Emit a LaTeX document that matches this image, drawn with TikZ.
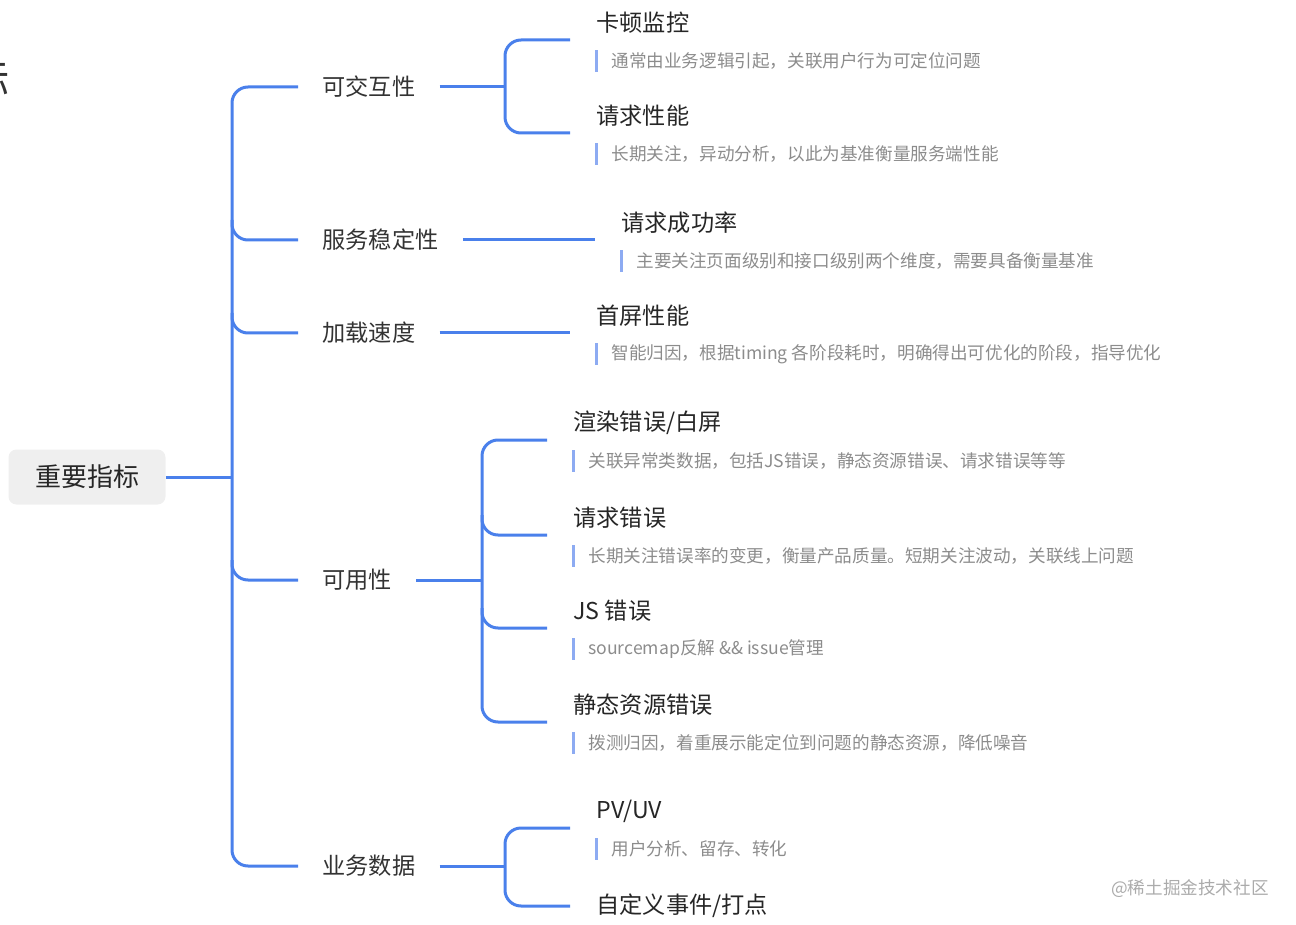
\documentclass[tikz,border=0pt]{standalone}
\usepackage{fontspec}
\setmainfont{Noto Sans CJK SC}
\usetikzlibrary{positioning, calc}
\definecolor{linkblue}{HTML}{4A80EB}
\definecolor{barblue}{HTML}{8DABF2}
\definecolor{rootgray}{HTML}{EFEFEF}
\definecolor{titletext}{HTML}{262626}
\definecolor{branchtext}{HTML}{333333}
\definecolor{notegray}{HTML}{8C8C8C}
\definecolor{wmgray}{HTML}{ABABAB}

\begin{document}
\begin{tikzpicture}[x=0.5pt, y=-0.5pt, node distance=13pt]
    % Styles
    \tikzstyle{rootbox}=[fill=rootgray, rounded corners=4pt, minimum width=78.5pt, minimum height=27.5pt, text=titletext, font=\fontsize{13}{15}\selectfont]
    \tikzstyle{branch}=[inner xsep=12pt, inner ysep=2pt, text=branchtext, font=\fontsize{11.6}{14}\selectfont]
    \tikzstyle{leaftitle}=[inner sep=0pt, text=titletext, font=\fontsize{11.6}{14}\selectfont]
    \tikzstyle{leafnote}=[inner xsep=7.5pt, inner ysep=0pt, minimum height=10.5pt, text=notegray, font=\fontsize{8.8}{10}\selectfont]
    \tikzstyle{conn}=[draw=linkblue, line width=1.5pt, rounded corners=8pt]
    \tikzstyle{notebar}=[draw=barblue, line width=1.5pt]
    \tikzstyle{wmark}=[text=wmgray, font=\fontsize{8.8}{10}\selectfont]

    \useasboundingbox (0,0) rectangle (1296,925);

    % Page title (cut off at the left edge)
    \node[anchor=east, inner sep=0pt, text=branchtext, font=\fontsize{21}{24}\selectfont] (pagetitle) at (10,80) {重要指标};

    % Root and first level
    \node[rootbox] (root) at (87,477) {重要指标};
    \coordinate (hub) at (232,477);
    \node[branch, anchor=west] (n1) at (298,87) {可交互性};
    \node[branch, anchor=west] (n2) at (298,240) {服务稳定性};
    \node[branch, anchor=west] (n3) at (298,333) {加载速度};
    \node[branch, anchor=west] (n4) at (298,580) {可用性};
    \node[branch, anchor=west] (n5) at (298,866) {业务数据};

    % Junctions and line ends of the leaves
    \coordinate (j1) at (505,87);
    \coordinate (j4) at (482,580);
    \coordinate (j5) at (505,866);
    \coordinate (c11) at (570,40);
    \coordinate (c12) at (570,133);
    \coordinate (c21) at (595,240);
    \coordinate (c31) at (570,333);
    \coordinate (c41) at (547,440);
    \coordinate (c42) at (547,535);
    \coordinate (c43) at (547,628);
    \coordinate (c44) at (547,722);
    \coordinate (c51) at (570,828);
    \coordinate (c52) at (570,906);

    % Leaves
    \node[leaftitle, right=of c11, yshift=8.5pt] (t11) {卡顿监控};
    \node[leafnote, right=of c11, yshift=-10.5pt] (d11) {通常由业务逻辑引起，关联用户行为可定位问题};
    \node[leaftitle, right=of c12, yshift=8.5pt] (t12) {请求性能};
    \node[leafnote, right=of c12, yshift=-10.5pt] (d12) {长期关注，异动分析，以此为基准衡量服务端性能};
    \node[leaftitle, right=of c21, yshift=8.5pt] (t21) {请求成功率};
    \node[leafnote, right=of c21, yshift=-10.5pt] (d21) {主要关注页面级别和接口级别两个维度，需要具备衡量基准};
    \node[leaftitle, right=of c31, yshift=8.5pt] (t31) {首屏性能};
    \node[leafnote, right=of c31, yshift=-10.5pt] (d31) {智能归因，根据timing 各阶段耗时，明确得出可优化的阶段，指导优化};
    \node[leaftitle, right=of c41, yshift=8.5pt] (t41) {渲染错误/白屏};
    \node[leafnote, right=of c41, yshift=-10.5pt] (d41) {关联异常类数据，包括JS错误，静态资源错误、请求错误等等};
    \node[leaftitle, right=of c42, yshift=8.5pt] (t42) {请求错误};
    \node[leafnote, right=of c42, yshift=-10.5pt] (d42) {长期关注错误率的变更，衡量产品质量。短期关注波动，关联线上问题};
    \node[leaftitle, right=of c43, yshift=8.5pt] (t43) {JS 错误};
    \node[leafnote, right=of c43, yshift=-10.5pt] (d43) {sourcemap反解 \&\& issue管理};
    \node[leaftitle, right=of c44, yshift=8.5pt] (t44) {静态资源错误};
    \node[leafnote, right=of c44, yshift=-10.5pt] (d44) {拨测归因，着重展示能定位到问题的静态资源，降低噪音};
    \node[leaftitle, right=of c51, yshift=8.5pt] (t51) {PV/UV};
    \node[leafnote, right=of c51, yshift=-10.5pt] (d51) {用户分析、留存、转化};
    \node[leaftitle, right=of c52] (t52) {自定义事件/打点};

    % Note bars
    \foreach \d in {d11,d12,d21,d31,d41,d42,d43,d44,d51}
        \draw[notebar] (\d.north west) -- (\d.south west);

    % Connectors: root to first level
    \draw[conn] (root.east) -- (hub);
    \draw[conn] (n1.west) -| (hub) |- (n5.west);
    \foreach \n in {n2,n3,n4}
        \draw[conn] ($(hub |- \n.west)+(0,-20)$) |- (\n.west);

    % Connectors: first level to leaves
    \draw[conn] (n1.east) -- (j1);
    \draw[conn] (c11) -| (j1) |- (c12);
    \draw[conn] (n2.east) -- (c21);
    \draw[conn] (n3.east) -- (c31);
    \draw[conn] (n4.east) -- (j4);
    \draw[conn] (c41) -| (j4) |- (c44);
    \foreach \c in {c42,c43}
        \draw[conn] ($(j4 |- \c)+(0,-20)$) |- (\c);
    \draw[conn] (n5.east) -- (j5);
    \draw[conn] (c51) -| (j5) |- (c52);

    % Watermark
    \node[wmark] (wm) at (1190,889) {@稀土掘金技术社区};
\end{tikzpicture}
\end{document}
